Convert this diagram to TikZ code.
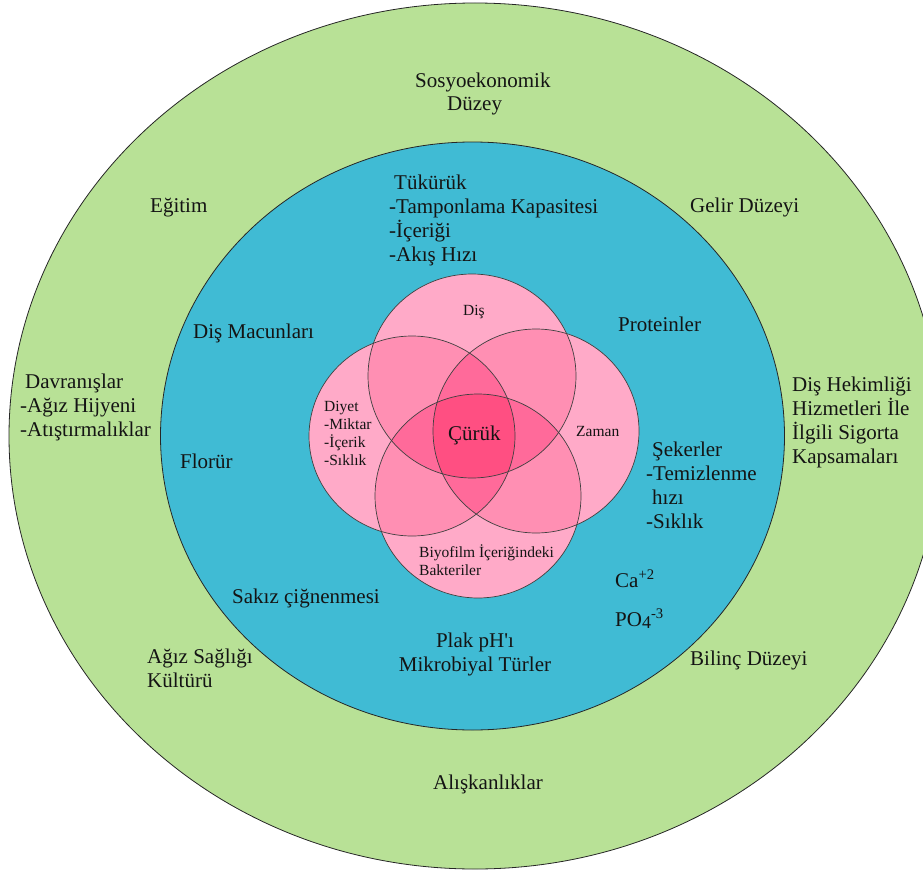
\documentclass[tikz,border=0pt]{standalone}
\usepackage{fontspec}
\setmainfont{Liberation Serif}[Ligatures=TeXOff]
\definecolor{outergreen}{RGB}{184,225,150}
\definecolor{innerblue}{RGB}{64,187,212}
\definecolor{pinkA}{RGB}{255,170,200}
\definecolor{pinkB}{RGB}{255,143,179}
\definecolor{pinkC}{RGB}{255,106,154}
\definecolor{pinkD}{RGB}{255,79,130}
\definecolor{ink}{RGB}{20,20,20}
\tikzset{
  ring/.style={draw=black!85, line width=0.8pt},
  vennline/.style={draw=black!75, line width=0.7pt},
  bigtxt/.style={inner sep=0pt, text=ink, font=\fontsize{21}{24}\selectfont, align=left, anchor=base west},
  smalltxt/.style={inner sep=0pt, text=ink, font=\fontsize{15.5}{18}\selectfont, align=left, anchor=base west}
}
\newcommand{\vA}{(472,376) ellipse [x radius=104pt, y radius=102pt]}
\newcommand{\vB}{(412,436) ellipse [x radius=103pt, y radius=100pt]}
\newcommand{\vC}{(536,431) ellipse [x radius=103pt, y radius=102pt]}
\newcommand{\vD}{(478,496) ellipse [x radius=103pt, y radius=102pt]}
\begin{document}
\begin{tikzpicture}[x=1pt,y=-1pt]
\useasboundingbox (0,0) rectangle (923,872);
\begin{scope}
\clip (0,0) rectangle (923,872);
% outer ring
\fill[outergreen] (475,436) ellipse [x radius=466pt, y radius=433pt];
\draw[ring] (475,436) ellipse [x radius=466pt, y radius=433pt];
\end{scope}
% inner ring
\fill[innerblue] (472.5,436) ellipse [x radius=312pt, y radius=294pt];
\draw[ring] (472.5,436) ellipse [x radius=312pt, y radius=294pt];
% venn: single
\fill[pinkA] \vA; \fill[pinkA] \vB; \fill[pinkA] \vC; \fill[pinkA] \vD;
% pairs
\begin{scope}\clip \vA; \fill[pinkB] \vB; \fill[pinkB] \vC; \fill[pinkB] \vD;\end{scope}
\begin{scope}\clip \vB; \fill[pinkB] \vC; \fill[pinkB] \vD;\end{scope}
\begin{scope}\clip \vC; \fill[pinkB] \vD;\end{scope}
% triples
\begin{scope}\clip \vA; \clip \vB; \fill[pinkC] \vC; \fill[pinkC] \vD;\end{scope}
\begin{scope}\clip \vA; \clip \vC; \fill[pinkC] \vD;\end{scope}
\begin{scope}\clip \vB; \clip \vC; \fill[pinkC] \vD;\end{scope}
% quad
\begin{scope}\clip \vA; \clip \vB; \clip \vC; \fill[pinkD] \vD;\end{scope}
\draw[vennline] \vA; \draw[vennline] \vB; \draw[vennline] \vC; \draw[vennline] \vD;
% outer labels
\node[bigtxt] (soc) at (415,111) {Sosyoekonomik\\\hspace*{32pt}Düzey};
\node[bigtxt] (egitim) at (150,212) {Eğitim};
\node[bigtxt] (gelir) at (690,212) {Gelir Düzeyi};
\node[bigtxt] (davr) at (20,436) {\hspace*{5pt}Davranışlar\\-Ağız Hijyeni\\-Atıştırmalıklar};
\node[bigtxt] (hekim) at (792,463) {Diş Hekimliği\\Hizmetleri İle\\İlgili Sigorta\\Kapsamaları};
\node[bigtxt] (agiz) at (147,687) {Ağız Sağlığı\\Kültürü};
\node[bigtxt] (bilinc) at (690,665) {Bilinç Düzeyi};
\node[bigtxt] (alis) at (433,789) {Alışkanlıklar};
% inner labels
\node[bigtxt] (tuk) at (389,261) {\hspace*{5pt}Tükürük\\-Tamponlama Kapasitesi\\-İçeriği\\-Akış Hızı};
\node[bigtxt] (macun) at (193,338) {Diş Macunları};
\node[bigtxt] (protein) at (618,331) {Proteinler};
\node[bigtxt] (florur) at (180,468) {Florür};
\node[bigtxt] (seker) at (646,528) {\hspace*{6pt}Şekerler\\-Temizlenme\\\hspace*{6pt}hızı\\-Sıklık};
\node[bigtxt] (ca) at (615,587) {Ca\textsuperscript{+2}};
\node[bigtxt] (po) at (615,626) {PO\raisebox{-2pt}{\fontsize{18}{18}\selectfont 4}\textsuperscript{-3}};
\node[bigtxt] (sakiz) at (232,603) {Sakız çiğnenmesi};
\node[bigtxt, align=center, anchor=base] (plak) at (475,671) {Plak pH'ı\\Mikrobiyal Türler};
% venn labels
\node[smalltxt] (dis) at (463,315) {Diş};
\node[smalltxt] (diyet) at (324,465) {Diyet\\-Miktar\\-İçerik\\-Sıklık};
\node[bigtxt] (curuk) at (448,440) {Çürük};
\node[smalltxt] (zaman) at (576,436) {Zaman};
\node[smalltxt] (biyo) at (419,575) {Biyofilm İçeriğindeki\\Bakteriler};
\end{tikzpicture}
\end{document}
